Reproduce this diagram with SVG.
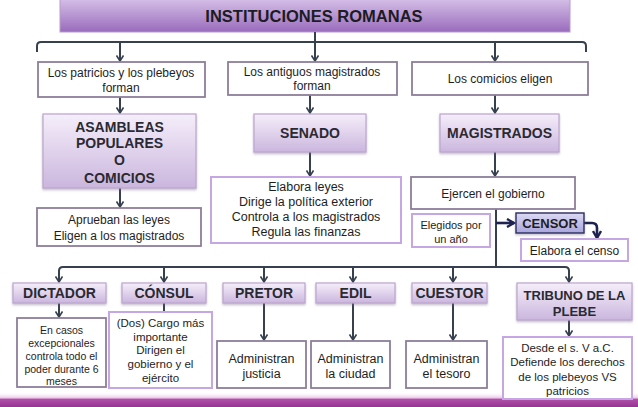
<svg xmlns="http://www.w3.org/2000/svg" width="638" height="407" viewBox="0 0 638 407">
<defs>
<linearGradient id="gTitle" x1="0" y1="0" x2="0" y2="1"><stop offset="0" stop-color="#d6c1e8"/><stop offset="1" stop-color="#9a6bbd"/></linearGradient>
<linearGradient id="gBox" x1="0" y1="0" x2="0" y2="1"><stop offset="0" stop-color="#f5eefa"/><stop offset="1" stop-color="#cbb6de"/></linearGradient>
<linearGradient id="gCensor" x1="0" y1="0" x2="0" y2="1"><stop offset="0" stop-color="#dcdaf5"/><stop offset="1" stop-color="#a9a6dc"/></linearGradient>
<linearGradient id="gBottom" x1="0" y1="0" x2="0" y2="1"><stop offset="0" stop-color="#f6e6f4" stop-opacity="0"/><stop offset="0.35" stop-color="#e9c9e6"/><stop offset="0.45" stop-color="#b14fa9"/><stop offset="1" stop-color="#953592"/></linearGradient>
<filter id="sh" x="-10%" y="-10%" width="120%" height="130%"><feDropShadow dx="0" dy="1.5" stdDeviation="1.2" flood-color="#7a6a88" flood-opacity="0.45"/></filter>
<marker id="ah" markerWidth="8" markerHeight="8" refX="6" refY="4" orient="auto" markerUnits="userSpaceOnUse"><path d="M0.5,0.5 L6,4 L0.5,7.5" fill="none" stroke="#36404e" stroke-width="1.6"/></marker>
<marker id="ahb" markerWidth="10" markerHeight="10" refX="8" refY="5" orient="auto" markerUnits="userSpaceOnUse"><path d="M1,1 L8,5 L1,9" fill="none" stroke="#1f2250" stroke-width="2.4"/></marker>
</defs>
<style>
.t{font-family:"Liberation Sans",Arial,sans-serif;fill:#1e1e1e;text-anchor:middle}
.b{font-weight:bold;font-size:14px;fill:#2a2a32}
.wb{fill:#ffffff;stroke:#8d7e9a;stroke-width:1.8}
.lb{fill:#ffffff;stroke:#c7a6e4;stroke-width:2}
.pb{fill:url(#gBox);stroke:#bba6cd;stroke-width:1.2}
.c{fill:none;stroke:#36404e;stroke-width:2}
.ca{fill:none;stroke:#36404e;stroke-width:2;marker-end:url(#ah)}
</style>
<rect x="0" y="393" width="638" height="14" fill="url(#gBottom)"/>
<g id="title"><rect x="60" y="-2" width="510" height="34" fill="url(#gTitle)" stroke="#b79ccc" stroke-width="1"/><text class="t b" x="314" y="22" style="font-size:16.5px;fill:#1c1c24">INSTITUCIONES ROMANAS</text></g>
<g id="connectors">
<path class="c" d="M37,52 V46 Q37,42 41,42 H582 Q586,42 586,46 V52"/>
<path class="ca" d="M315,32 V61"/>
<path class="ca" d="M120,42 V61"/>
<path class="ca" d="M495,42 V61"/>
<path class="ca" d="M120,97 V113"/>
<path class="ca" d="M310,95 V113"/>
<path class="ca" d="M495,95 V113"/>
<path class="ca" d="M120,188 V207"/>
<path class="ca" d="M310,152 V176"/>
<path class="ca" d="M495,152 V176"/>
<path class="c" d="M496,209 V267"/>
<path fill="none" stroke="#1f2250" stroke-width="2.6" marker-end="url(#ahb)" d="M496,223 H514"/>
<path fill="none" stroke="#1f2250" stroke-width="2.6" marker-end="url(#ahb)" d="M584,223 H592 Q597,223 597,228 V238"/>
<path class="c" d="M59,282 V271 Q59,267 63,267 H565 Q569,267 569,271 V282"/>
<path class="ca" d="M59,270 V282"/>
<path class="ca" d="M569,270 V282"/>
<path class="ca" d="M164,267 V282"/>
<path class="ca" d="M264,267 V282"/>
<path class="ca" d="M353,267 V282"/>
<path class="ca" d="M453,267 V282"/>
<path class="ca" d="M59,303 V317"/>
<path class="c" d="M164,303 V312"/>
<path class="ca" d="M264,303 V340"/>
<path class="ca" d="M353,303 V340"/>
<path class="ca" d="M453,303 V340"/>
<path class="ca" d="M569,320 V336"/>
</g>
<g id="patricios"><rect class="wb" x="38" y="62" width="167" height="35"/><text class="t" x="121" y="77" font-size="12">Los patricios y los plebeyos</text><text class="t" x="121" y="92" font-size="12">forman</text></g>
<g id="antiguos"><rect class="wb" x="228" y="62" width="169" height="33"/><text class="t" x="312" y="76" font-size="12">Los antiguos magistrados</text><text class="t" x="312" y="90" font-size="12">forman</text></g>
<g id="comicios"><rect class="wb" x="412" y="62" width="176" height="33"/><text class="t" x="500" y="83" font-size="12">Los comicios eligen</text></g>
<g id="asambleas"><rect class="pb" filter="url(#sh)" x="43" y="114" width="153" height="74"/><text class="t b" x="119.5" y="132">ASAMBLEAS</text><text class="t b" x="119.5" y="148">POPULARES</text><text class="t b" x="119.5" y="165">O</text><text class="t b" x="119.5" y="183">COMICIOS</text></g>
<g id="senado"><rect class="pb" filter="url(#sh)" x="254" y="114" width="112" height="38"/><text class="t b" x="310" y="138">SENADO</text></g>
<g id="magistrados"><rect class="pb" filter="url(#sh)" x="440" y="114" width="119" height="38"/><text class="t b" x="499.5" y="138">MAGISTRADOS</text></g>
<g id="aprueban"><rect class="wb" x="37" y="208" width="164" height="38"/><text class="t" x="119" y="224" font-size="12">Aprueban las leyes</text><text class="t" x="119" y="240" font-size="12">Eligen a los magistrados</text></g>
<g id="senadoDesc"><rect class="lb" x="211" y="177" width="190" height="66"/><text class="t" x="306" y="191" font-size="12.5">Elabora leyes</text><text class="t" x="306" y="206" font-size="12.5">Dirige la política exterior</text><text class="t" x="306" y="221" font-size="12.5">Controla a los magistrados</text><text class="t" x="306" y="236" font-size="12.5">Regula las finanzas</text></g>
<g id="ejercen"><rect class="wb" x="411" y="177" width="164" height="32"/><text class="t" x="493" y="198" font-size="12">Ejercen el gobierno</text></g>
<g id="elegidos"><rect class="lb" x="412" y="214" width="78" height="33"/><text class="t" x="451" y="229" font-size="11">Elegidos por</text><text class="t" x="451" y="243" font-size="11">un año</text></g>
<g id="censor"><rect x="516" y="213" width="68" height="20" fill="url(#gCensor)" stroke="#2a2d5c" stroke-width="1.4" filter="url(#sh)"/><text class="t" x="550" y="228" font-size="13" font-weight="bold" fill="#15152a">CENSOR</text></g>
<g id="censo"><rect class="lb" x="521" y="239" width="107" height="22"/><text class="t" x="574.5" y="255" font-size="12">Elabora el censo</text></g>
<g id="dictador"><rect class="pb" filter="url(#sh)" x="13" y="283" width="93" height="20"/><text class="t b" x="59.5" y="298">DICTADOR</text></g>
<g id="consul"><rect class="pb" filter="url(#sh)" x="122" y="283" width="84" height="20"/><text class="t b" x="164" y="298">CÓNSUL</text></g>
<g id="pretor"><rect class="pb" filter="url(#sh)" x="223" y="283" width="82" height="20"/><text class="t b" x="264" y="298">PRETOR</text></g>
<g id="edil"><rect class="pb" filter="url(#sh)" x="316" y="283" width="79" height="20"/><text class="t b" x="355.5" y="298">EDIL</text></g>
<g id="cuestor"><rect class="pb" filter="url(#sh)" x="412" y="283" width="75" height="20"/><text class="t b" x="449.5" y="298">CUESTOR</text></g>
<g id="tribuno"><rect class="pb" filter="url(#sh)" x="517" y="283" width="115" height="37"/><text class="t b" x="574.5" y="300" style="font-size:13px">TRIBUNO DE LA</text><text class="t b" x="574.5" y="316" style="font-size:13px">PLEBE</text></g>
<g id="dictadorDesc"><rect class="wb" x="17" y="318" width="89" height="69"/><text class="t" x="61.5" y="334" font-size="10.5">En casos</text><text class="t" x="61.5" y="347" font-size="10.5">excepcionales</text><text class="t" x="61.5" y="360" font-size="10.5">controla todo el</text><text class="t" x="61.5" y="373" font-size="10.5">poder durante 6</text><text class="t" x="61.5" y="385" font-size="10.5">meses</text></g>
<g id="consulDesc"><rect class="lb" x="109" y="312" width="103" height="76"/><text class="t" x="160.5" y="327" font-size="11.5">(Dos) Cargo más</text><text class="t" x="160.5" y="341" font-size="11.5">importante</text><text class="t" x="160.5" y="354" font-size="11.5">Dirigen el</text><text class="t" x="160.5" y="368" font-size="11.5">gobierno y el</text><text class="t" x="160.5" y="382" font-size="11.5">ejército</text></g>
<g id="pretorDesc"><rect class="wb" x="217" y="341" width="89" height="47"/><text class="t" x="261.5" y="363" font-size="12.5">Administran</text><text class="t" x="261.5" y="378" font-size="12.5">justicia</text></g>
<g id="edilDesc"><rect class="wb" x="311" y="341" width="79" height="47"/><text class="t" x="350.5" y="363" font-size="12.5">Administran</text><text class="t" x="350.5" y="378" font-size="12.5">la ciudad</text></g>
<g id="cuestorDesc"><rect class="wb" x="406" y="341" width="81" height="47"/><text class="t" x="446.5" y="363" font-size="12.5">Administran</text><text class="t" x="446.5" y="378" font-size="12.5">el tesoro</text></g>
<g id="tribunoDesc"><rect class="lb" x="503" y="337" width="129" height="62"/><text class="t" x="567.5" y="352" font-size="11.5">Desde el s. V a.C.</text><text class="t" x="567.5" y="366" font-size="11.5">Defiende los derechos</text><text class="t" x="567.5" y="381" font-size="11.5">de los plebeyos VS</text><text class="t" x="567.5" y="395" font-size="11.5">patricios</text></g>
</svg>
